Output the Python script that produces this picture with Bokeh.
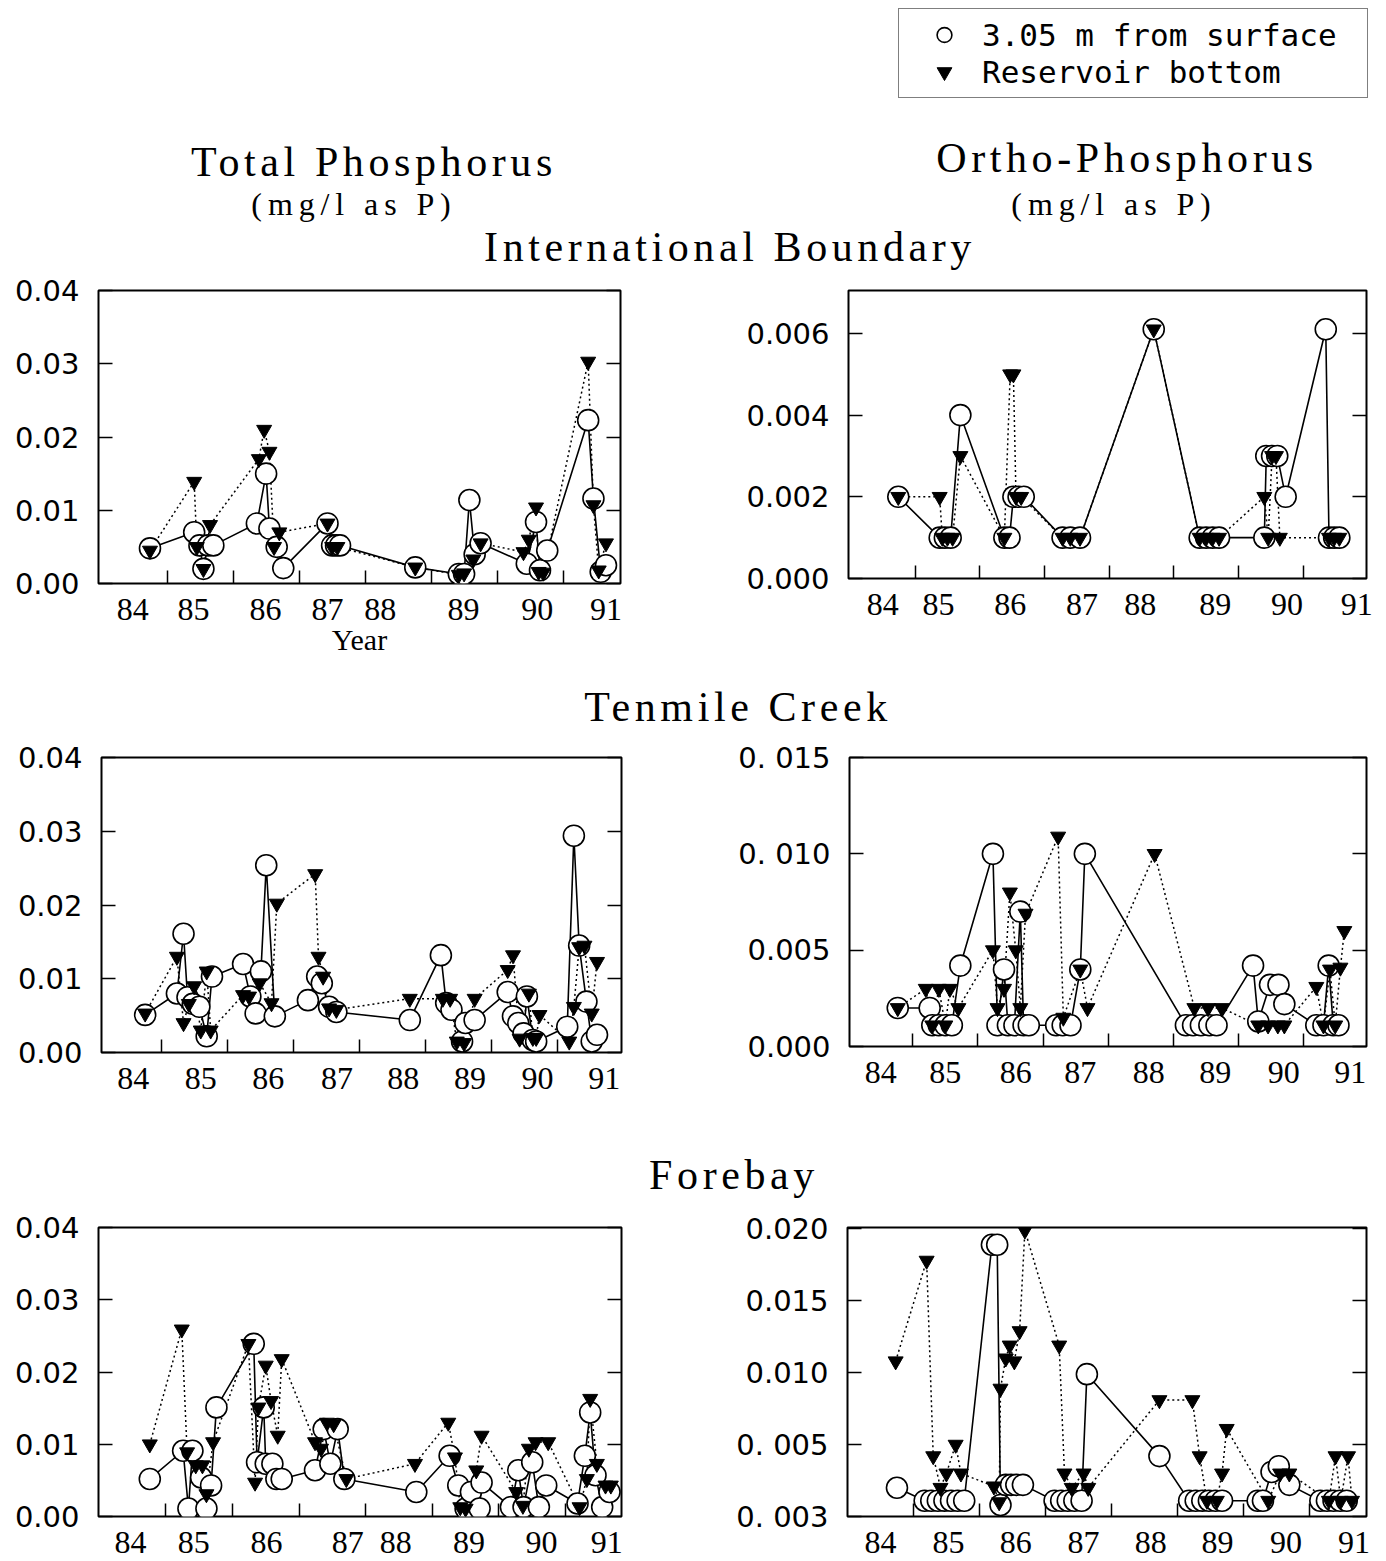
from bokeh.plotting import figure
from bokeh.models import (FixedTicker, LinearAxis, Range1d, Div, Legend, LegendItem, Spacer,
                          CustomLabelingPolicy)
from bokeh.layouts import column, row
from bokeh.embed import file_html
from bokeh.resources import INLINE

# ---------------- data ----------------
year_ticks = [1985, 1986, 1987, 1988, 1989, 1990, 1991]
year_labels = ["84", "85", "86", "87", "88", "89", "90", "91"]

# International Boundary - Total phosphorus
ib_tp_surf_x = [1984.74, 1985.41, 1985.49, 1985.55, 1985.62, 1985.70, 1986.36, 1986.50, 1986.55, 1986.66,
                1986.76, 1987.43, 1987.50, 1987.56, 1987.62, 1988.76, 1989.42, 1989.50, 1989.58, 1989.66,
                1989.75, 1990.45, 1990.59, 1990.65, 1990.76, 1991.38, 1991.46, 1991.57, 1991.65]
ib_tp_surf_y = [0.0048, 0.0070, 0.0052, 0.0020, 0.0052, 0.0052, 0.0082, 0.0150, 0.0075, 0.0050,
                0.0021, 0.0082, 0.0052, 0.0052, 0.0052, 0.0022, 0.0013, 0.0013, 0.0114, 0.0040,
                0.0055, 0.0027, 0.0084, 0.0018, 0.0045, 0.0223, 0.0116, 0.0016, 0.0025]
ib_tp_bot_x = [1984.74, 1985.41, 1985.45, 1985.55, 1985.65, 1986.39, 1986.47, 1986.55, 1986.62, 1986.70,
               1987.43, 1987.50, 1987.58, 1988.76, 1989.42, 1989.50, 1989.64, 1989.75, 1990.40, 1990.48,
               1990.59, 1990.63, 1990.70, 1991.38, 1991.46, 1991.54, 1991.65]
ib_tp_bot_y = [0.0045, 0.0139, 0.0050, 0.0020, 0.0080, 0.0170, 0.0210, 0.0180, 0.0050, 0.0070,
               0.0082, 0.0050, 0.0050, 0.0022, 0.0012, 0.0014, 0.0033, 0.0055, 0.0043, 0.0060,
               0.0104, 0.0016, 0.0015, 0.0303, 0.0107, 0.0018, 0.0055]

# International Boundary - Ortho phosphorus
ib_op_surf_x = [1984.74, 1985.38, 1985.46, 1985.55, 1985.70, 1986.38, 1986.46, 1986.52, 1986.60, 1986.68,
                1987.28, 1987.40, 1987.55, 1988.69, 1989.40, 1989.50, 1989.60, 1989.70, 1990.40, 1990.43,
                1990.52, 1990.60, 1990.73, 1991.35, 1991.40, 1991.48, 1991.56]
ib_op_surf_y = [0.0020, 0.0010, 0.0010, 0.0010, 0.0040, 0.0010, 0.0010, 0.0020, 0.0020, 0.0020,
                0.0010, 0.0010, 0.0010, 0.0061, 0.0010, 0.0010, 0.0010, 0.0010, 0.0010, 0.0030,
                0.0030, 0.0030, 0.0020, 0.0061, 0.0010, 0.0010, 0.0010]
ib_op_bot_x = [1984.74, 1985.38, 1985.42, 1985.50, 1985.58, 1985.70, 1986.38, 1986.47, 1986.52, 1986.56,
               1986.64, 1987.28, 1987.40, 1987.55, 1988.69, 1989.40, 1989.50, 1989.60, 1989.70, 1990.40,
               1990.46, 1990.52, 1990.58, 1990.64, 1991.40, 1991.48, 1991.56]
ib_op_bot_y = [0.0020, 0.0020, 0.0010, 0.0010, 0.0010, 0.0030, 0.0010, 0.0050, 0.0050, 0.0020,
               0.0020, 0.0010, 0.0010, 0.0010, 0.0061, 0.0010, 0.0010, 0.0010, 0.0010, 0.0020,
               0.0010, 0.0030, 0.0030, 0.0010, 0.0010, 0.0010, 0.0010]

# Tenmile Creek - Total phosphorus
tc_tp_surf_x = [1984.76, 1985.24, 1985.34, 1985.40, 1985.48, 1985.58, 1985.69, 1985.77, 1986.24, 1986.35,
                1986.43, 1986.51, 1986.59, 1986.72, 1987.22, 1987.36, 1987.43, 1987.54, 1987.65, 1988.76,
                1989.23, 1989.31, 1989.39, 1989.55, 1989.60, 1989.74, 1990.24, 1990.32, 1990.40, 1990.48,
                1990.53, 1990.62, 1990.67, 1991.14, 1991.24, 1991.32, 1991.43, 1991.51, 1991.59]
tc_tp_surf_y = [0.0051, 0.0080, 0.0161, 0.0075, 0.0066, 0.0062, 0.0022, 0.0103, 0.0120, 0.0076,
                0.0053, 0.0110, 0.0254, 0.0049, 0.0071, 0.0103, 0.0094, 0.0062, 0.0055, 0.0044,
                0.0132, 0.0067, 0.0058, 0.0015, 0.0040, 0.0044, 0.0082, 0.0049, 0.0040, 0.0026,
                0.0076, 0.0017, 0.0015, 0.0035, 0.0294, 0.0145, 0.0069, 0.0015, 0.0024]
tc_tp_bot_x = [1984.76, 1985.24, 1985.34, 1985.42, 1985.50, 1985.60, 1985.69, 1985.75, 1986.24, 1986.33,
               1986.49, 1986.67, 1986.75, 1987.33, 1987.38, 1987.45, 1987.54, 1987.65, 1988.76, 1989.26,
               1989.37, 1989.47, 1989.58, 1989.74, 1990.24, 1990.32, 1990.42, 1990.56, 1990.62, 1990.67,
               1990.72, 1991.17, 1991.24, 1991.32, 1991.40, 1991.51, 1991.59]
tc_tp_bot_y = [0.0053, 0.0130, 0.0040, 0.0066, 0.0090, 0.0030, 0.0110, 0.0030, 0.0078, 0.0076,
               0.0094, 0.0067, 0.0202, 0.0242, 0.0130, 0.0103, 0.0060, 0.0058, 0.0073, 0.0073,
               0.0073, 0.0015, 0.0013, 0.0073, 0.0112, 0.0132, 0.0019, 0.0080, 0.0020, 0.0020,
               0.0051, 0.0015, 0.0062, 0.0143, 0.0145, 0.0053, 0.0123]

# Tenmile Creek - Ortho phosphorus
tc_op_surf_x = [1984.77, 1985.26, 1985.30, 1985.40, 1985.50, 1985.60, 1985.73, 1986.23, 1986.30, 1986.40,
                1986.46, 1986.56, 1986.65, 1986.70, 1986.78, 1987.20, 1987.30, 1987.42, 1987.57, 1987.64,
                1989.19, 1989.30, 1989.42, 1989.55, 1989.66, 1990.22, 1990.30, 1990.48, 1990.61, 1990.70,
                1991.19, 1991.30, 1991.38, 1991.45, 1991.53]
tc_op_surf_y = [0.0020, 0.0020, 0.0011, 0.0011, 0.0011, 0.0011, 0.0042, 0.0100, 0.0011, 0.0040,
                0.0011, 0.0011, 0.0070, 0.0011, 0.0011, 0.0011, 0.0011, 0.0011, 0.0040, 0.0100,
                0.0011, 0.0011, 0.0011, 0.0011, 0.0011, 0.0042, 0.0013, 0.0032, 0.0032, 0.0022,
                0.0011, 0.0011, 0.0042, 0.0011, 0.0011]
tc_op_bot_x = [1984.77, 1985.20, 1985.30, 1985.40, 1985.50, 1985.57, 1985.70, 1986.23, 1986.30, 1986.40,
               1986.49, 1986.58, 1986.65, 1986.73, 1987.23, 1987.31, 1987.57, 1987.68, 1988.71, 1989.32,
               1989.53, 1989.74, 1990.30, 1990.45, 1990.60, 1990.70, 1991.19, 1991.30, 1991.40, 1991.48,
               1991.56, 1991.62]
tc_op_bot_y = [0.0020, 0.0030, 0.0011, 0.0030, 0.0011, 0.0030, 0.0020, 0.0050, 0.0020, 0.0030,
               0.0080, 0.0050, 0.0020, 0.0069, 0.0109, 0.0015, 0.0040, 0.0020, 0.0100, 0.0020,
               0.0020, 0.0020, 0.0011, 0.0011, 0.0011, 0.0011, 0.0031, 0.0011, 0.0040, 0.0011,
               0.0041, 0.0060]

# Forebay - Total phosphorus
fb_tp_surf_x = [1984.76, 1985.26, 1985.34, 1985.40, 1985.53, 1985.61, 1985.68, 1985.76, 1986.32, 1986.37,
                1986.47, 1986.50, 1986.60, 1986.66, 1986.74, 1987.24, 1987.37, 1987.47, 1987.58, 1987.68,
                1988.76, 1989.26, 1989.39, 1989.50, 1989.58, 1989.71, 1989.74, 1990.18, 1990.29, 1990.37,
                1990.50, 1990.60, 1990.71, 1991.18, 1991.29, 1991.37, 1991.45, 1991.55, 1991.66]
fb_tp_surf_y = [0.0052, 0.0091, 0.0011, 0.0091, 0.0054, 0.0011, 0.0043, 0.0151, 0.0239, 0.0075,
                0.0151, 0.0073, 0.0073, 0.0052, 0.0052, 0.0064, 0.0121, 0.0073, 0.0121, 0.0052,
                0.0034, 0.0084, 0.0043, 0.0011, 0.0034, 0.0011, 0.0047, 0.0013, 0.0064, 0.0013,
                0.0075, 0.0013, 0.0043, 0.0018, 0.0084, 0.0144, 0.0057, 0.0013, 0.0034]
fb_tp_bot_x = [1984.76, 1985.24, 1985.32, 1985.45, 1985.55, 1985.61, 1985.71, 1986.24, 1986.34, 1986.39,
               1986.50, 1986.58, 1986.68, 1986.74, 1987.24, 1987.33, 1987.42, 1987.52, 1987.71, 1988.74,
               1989.24, 1989.34, 1989.42, 1989.50, 1989.66, 1989.74, 1990.26, 1990.36, 1990.45, 1990.55,
               1990.74, 1991.21, 1991.32, 1991.37, 1991.47, 1991.60, 1991.68]
fb_tp_bot_y = [0.0100, 0.0259, 0.0089, 0.0071, 0.0071, 0.0031, 0.0103, 0.0239, 0.0047, 0.0151,
               0.0209, 0.0160, 0.0112, 0.0218, 0.0103, 0.0094, 0.0130, 0.0128, 0.0052, 0.0073,
               0.0130, 0.0082, 0.0013, 0.0011, 0.0064, 0.0112, 0.0034, 0.0015, 0.0094, 0.0103,
               0.0103, 0.0013, 0.0052, 0.0163, 0.0073, 0.0043, 0.0043]

# Forebay - Ortho phosphorus
fb_op_surf_x = [1984.75, 1985.17, 1985.27, 1985.37, 1985.47, 1985.57, 1985.67, 1985.77, 1986.19, 1986.27,
                1986.32, 1986.40, 1986.48, 1986.56, 1986.66, 1987.14, 1987.24, 1987.34, 1987.44, 1987.55,
                1987.63, 1988.73, 1989.18, 1989.28, 1989.38, 1989.48, 1989.58, 1989.68, 1990.22, 1990.30,
                1990.43, 1990.54, 1990.70, 1991.17, 1991.27, 1991.37, 1991.47, 1991.57]
fb_op_surf_y = [0.0020, 0.0011, 0.0011, 0.0011, 0.0011, 0.0011, 0.0011, 0.0011, 0.0189, 0.0189,
                0.0008, 0.0022, 0.0022, 0.0022, 0.0022, 0.0011, 0.0011, 0.0011, 0.0011, 0.0011,
                0.0099, 0.0042, 0.0011, 0.0011, 0.0011, 0.0011, 0.0011, 0.0011, 0.0011, 0.0011,
                0.0031, 0.0035, 0.0022, 0.0011, 0.0011, 0.0011, 0.0011, 0.0011]
fb_op_bot_x = [1984.73, 1985.20, 1985.30, 1985.41, 1985.50, 1985.64, 1985.72, 1986.22, 1986.30, 1986.32,
               1986.40, 1986.46, 1986.53, 1986.61, 1986.69, 1987.21, 1987.29, 1987.40, 1987.58, 1987.65,
               1988.73, 1989.23, 1989.34, 1989.45, 1989.60, 1989.68, 1989.75, 1990.38, 1990.56, 1990.70,
               1991.30, 1991.40, 1991.48, 1991.59, 1991.65]
fb_op_bot_y = [0.0108, 0.0178, 0.0042, 0.0020, 0.0030, 0.0050, 0.0030, 0.0021, 0.0010, 0.0089,
               0.0110, 0.0119, 0.0108, 0.0129, 0.0199, 0.0119, 0.0030, 0.0020, 0.0030, 0.0020,
               0.0081, 0.0081, 0.0042, 0.0011, 0.0011, 0.0030, 0.0061, 0.0011, 0.0030, 0.0030,
               0.0011, 0.0042, 0.0011, 0.0042, 0.0011]

# axis tick values / labels
tp_yticks = [0.0, 0.01, 0.02, 0.03, 0.04]
tp_ylabels = ["0.00", "0.01", "0.02", "0.03", "0.04"]
ib_op_yticks = [0.0, 0.002, 0.004, 0.006]
ib_op_ylabels = ["0.000", "0.002", "0.004", "0.006"]
tc_op_yticks = [0.0, 0.005, 0.010, 0.015]
tc_op_ylabels = ["0.000", "0.005", "0. 010", "0. 015"]
fb_op_yticks = [0.0, 0.005, 0.010, 0.015, 0.020]
fb_op_ylabels = ["0. 003", "0. 005", "0.010", "0.015", "0.020"]

# where each panel prints its year labels (axis units)
ib_tp_label_pos = [1984.48, 1985.40, 1986.49, 1987.43, 1988.23, 1989.49, 1990.61, 1991.65]
ib_op_label_pos = [1984.50, 1985.36, 1986.47, 1987.58, 1988.48, 1989.64, 1990.75, 1991.83]
tc_tp_label_pos = [1984.58, 1985.60, 1986.62, 1987.66, 1988.66, 1989.67, 1990.69, 1991.70]
tc_op_label_pos = [1984.51, 1985.50, 1986.58, 1987.57, 1988.62, 1989.64, 1990.69, 1991.71]
fb_tp_label_pos = [1984.47, 1985.42, 1986.51, 1987.73, 1988.45, 1989.55, 1990.64, 1991.62]
fb_op_label_pos = [1984.50, 1985.53, 1986.55, 1987.58, 1988.60, 1989.61, 1990.65, 1991.68]

legend_labels = ["3.05 m from surface", "Reservoir bottom"]

SERIF = "Liberation Serif"
SANS = "DejaVu Sans"

NO_LABELS = CustomLabelingPolicy(code="for (const i of indices) { indices.unset(i) }")


def make_panel(sx, sy, bx, by, xr, yr, yticks, ylabels, lab_pos,
               fw, fh, bl, br, bt, bb, xtitle=None):
    p = figure(width=fw + bl + br, height=fh + bt + bb,
               frame_width=fw, frame_height=fh,
               min_border_left=bl, min_border_right=br,
               min_border_top=bt, min_border_bottom=bb,
               x_range=Range1d(*xr), y_range=Range1d(*yr),
               x_axis_location=None, y_axis_location=None,
               toolbar_location=None, output_backend="svg",
               background_fill_color="white", border_fill_color="white")
    p.outline_line_color = "black"
    p.outline_line_width = 2
    p.grid.visible = False

    xax = LinearAxis(ticker=FixedTicker(ticks=lab_pos, minor_ticks=year_ticks),
                     major_label_overrides={v: t for v, t in zip(lab_pos, year_labels)},
                     major_tick_line_color=None,
                     minor_tick_in=13, minor_tick_out=0,
                     minor_tick_line_color="black", minor_tick_line_width=1.5,
                     axis_line_color=None,
                     major_label_text_font=SERIF, major_label_text_font_size="32px",
                     major_label_text_color="black", major_label_standoff=9)
    if xtitle:
        xax.axis_label = xtitle
        xax.axis_label_text_font = SERIF
        xax.axis_label_text_font_size = "30px"
        xax.axis_label_text_font_style = "normal"
        xax.axis_label_text_color = "black"
        xax.axis_label_standoff = 0
    p.add_layout(xax, "below")

    yl = LinearAxis(ticker=FixedTicker(ticks=yticks),
                    major_label_overrides={v: t for v, t in zip(yticks, ylabels)},
                    major_tick_in=14, major_tick_out=0,
                    major_tick_line_color="black", major_tick_line_width=1.5,
                    minor_tick_line_color=None, axis_line_color=None,
                    major_label_text_font=SANS, major_label_text_font_size="29px",
                    major_label_text_color="black", major_label_standoff=19)
    p.add_layout(yl, "left")
    yr_ax = LinearAxis(ticker=FixedTicker(ticks=yticks),
                       major_label_policy=NO_LABELS, major_label_standoff=0,
                       major_tick_in=14, major_tick_out=0,
                       major_tick_line_color="black", major_tick_line_width=1.5,
                       minor_tick_line_color=None, axis_line_color=None)
    p.add_layout(yr_ax, "right")

    p.line(sx, sy, line_color="black", line_width=1.6)
    p.line(bx, by, line_color="black", line_width=1.5, line_dash="2 3")
    p.scatter(sx, sy, marker="circle", size=21, fill_color="white",
              line_color="black", line_width=1.6)
    p.scatter(bx, by, marker="inverted_triangle", size=15, fill_color="black",
              line_color="black", line_width=1)
    return p


tl = make_panel(ib_tp_surf_x, ib_tp_surf_y, ib_tp_bot_x, ib_tp_bot_y,
                (1983.96, 1991.87), (0, 0.04), tp_yticks, tp_ylabels, ib_tp_label_pos,
                522, 293, 98, 70, 15, 102, xtitle="Year")
tr = make_panel(ib_op_surf_x, ib_op_surf_y, ib_op_bot_x, ib_op_bot_y,
                (1983.97, 1991.98), (0, 0.00705), ib_op_yticks, ib_op_ylabels, ib_op_label_pos,
                518, 288, 158, 20, 20, 102)
ml = make_panel(tc_tp_surf_x, tc_tp_surf_y, tc_tp_bot_x, tc_tp_bot_y,
                (1984.10, 1991.96), (0, 0.04), tp_yticks, tp_ylabels, tc_tp_label_pos,
                520, 295, 101, 69, 22, 98)
mr = make_panel(tc_op_surf_x, tc_op_surf_y, tc_op_bot_x, tc_op_bot_y,
                (1984.03, 1991.96), (0, 0.015), tc_op_yticks, tc_op_ylabels, tc_op_label_pos,
                517, 289, 159, 20, 22, 104)
bl = make_panel(fb_tp_surf_x, fb_tp_surf_y, fb_tp_bot_x, fb_tp_bot_y,
                (1983.99, 1991.84), (0, 0.04), tp_yticks, tp_ylabels, fb_tp_label_pos,
                523, 289, 98, 69, 27, 45)
br = make_panel(fb_op_surf_x, fb_op_surf_y, fb_op_bot_x, fb_op_bot_y,
                (1984.00, 1991.87), (0, 0.0201), fb_op_yticks, fb_op_ylabels, fb_op_label_pos,
                519, 289, 157, 20, 27, 45)

# ---------------- legend ----------------
lf = figure(width=488, height=100, frame_width=488, frame_height=100, min_border=0,
            x_range=Range1d(0, 1), y_range=Range1d(0, 1),
            x_axis_location=None, y_axis_location=None,
            toolbar_location=None, output_backend="svg")
lf.outline_line_color = None
lf.grid.visible = False
nan = float("nan")
# key-only renderers (a single NaN row so the legend swatch is drawn, nothing in the frame)
r_surf = lf.scatter([nan], [nan], marker="circle", fill_color="white",
                    line_color="black", line_width=1.6)
r_bot = lf.scatter([nan], [nan], marker="inverted_triangle", fill_color="black",
                   line_color="black")
legend = Legend(items=[LegendItem(label=legend_labels[0], renderers=[r_surf]),
                       LegendItem(label=legend_labels[1], renderers=[r_bot])],
                location=(0, 2), padding=7, spacing=0, margin=0,
                glyph_width=76, glyph_height=37, label_standoff=0, label_width=378,
                label_height=37,
                label_text_font="DejaVu Sans Mono", label_text_font_size="31px",
                label_text_color="black",
                border_line_color="black", border_line_width=1.5,
                background_fill_color="white", background_fill_alpha=1.0)
lf.add_layout(legend)


# ---------------- text blocks ----------------
def txt(text, cx, cy, size, ls):
    return (f'<div style="position:absolute;left:{cx}px;top:{cy}px;transform:translate(-50%,-50%);'
            f'font-family:\'{SERIF}\';font-size:{size}px;letter-spacing:{ls}px;white-space:nowrap;'
            f'line-height:1;color:black;">{text}</div>')


def block(w, h, parts):
    return Div(width=w, height=h, margin=0,
               text=f'<div style="position:relative;width:{w}px;height:{h}px;">' + "".join(parts) + '</div>')


titles = block(1386, 170, [
    txt("Total Phosphorus", 374, 62, 42, 4.6),
    txt("(mg/l as P)", 354, 104, 32, 5.9),
    txt("Ortho-Phosphorus", 1127, 58, 42, 4.6),
    txt("(mg/l as P)", 1114, 104, 32, 5.9),
    txt("International Boundary", 730, 147, 42, 4.6),
])
tenmile = block(1386, 55, [txt("Tenmile Creek", 738, 27, 42, 4.6)])
forebay = block(1386, 50, [txt("Forebay", 734, 25, 42, 4.6)])

layout = column(
    row(Spacer(width=898, height=100), lf),
    titles,
    row(tl, tr),
    tenmile,
    row(ml, mr),
    forebay,
    row(bl, br),
)

open("out.html", "w").write(file_html(layout, INLINE))
